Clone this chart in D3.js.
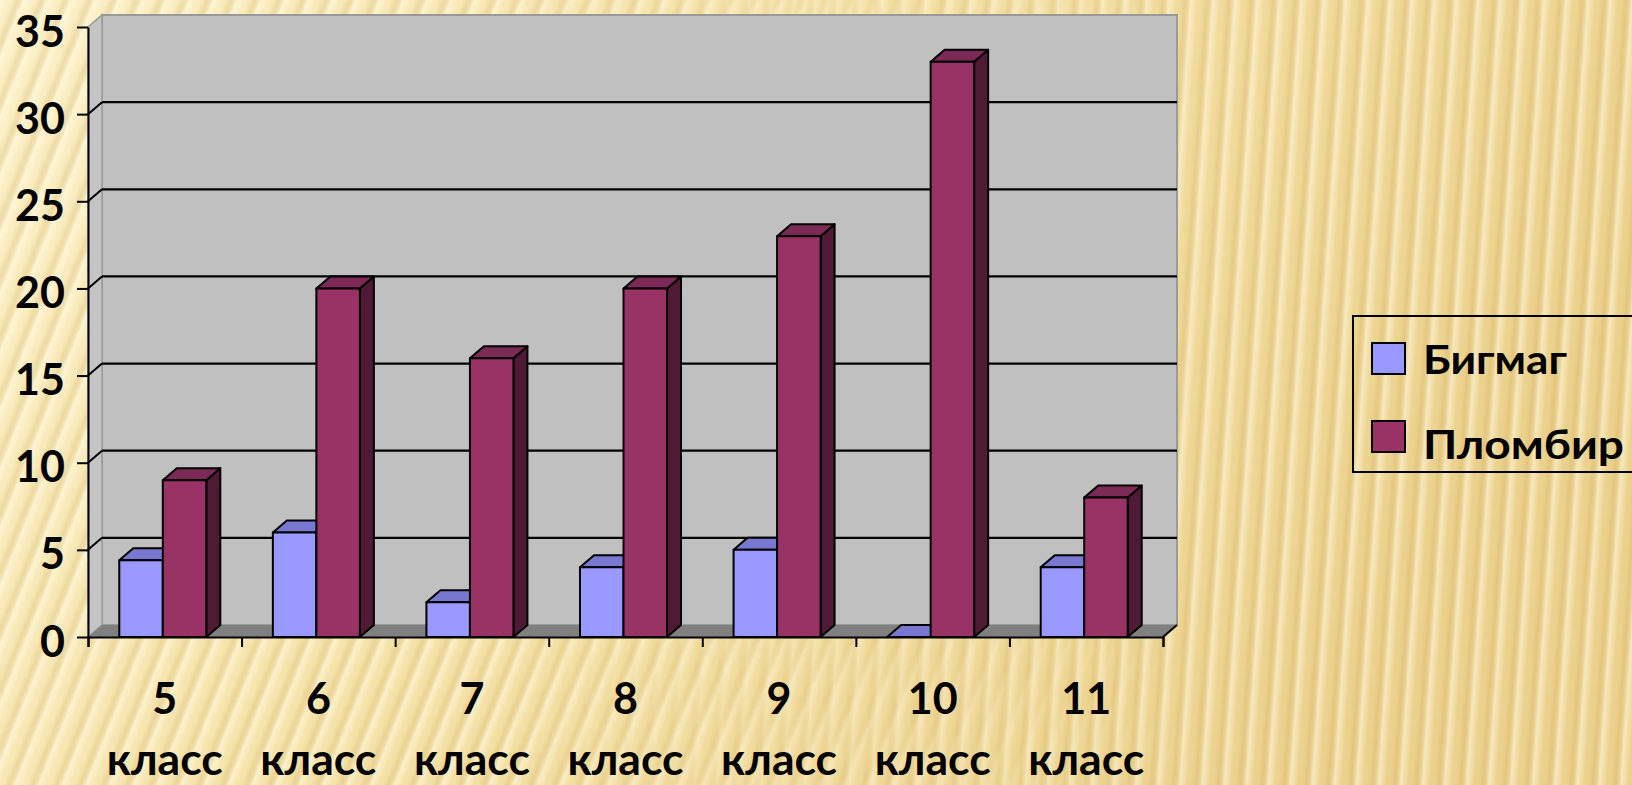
<!DOCTYPE html>
<html>
<head>
<meta charset="utf-8">
<script src="https://cdn.jsdelivr.net/npm/d3@7"></script>
<style>
body { margin: 0; overflow: hidden; }
svg { display: block; }
text { font-family: Lato, "Open Sans", sans-serif; font-weight: bold; fill: #000; }
</style>
</head>
<body>
<div id="chart"></div>
<script>
// данные диаграммы
var categories = ["5", "6", "7", "8", "9", "10", "11"];
var classWord = "класс";
var seriesNames = ["Бигмаг", "Пломбир"];
var bigmag = [4.4, 6, 2, 4, 5, 0, 4];
var plombir = [9, 20, 16, 20, 23, 33, 8];
var yTicks = [0, 5, 10, 15, 20, 25, 30, 35];

var widthx = 1632, heighty = 785;
var depth = {dx: 14, dy: -12}; // глубина 3D
var colors = {
    "Бигмаг": {front: "#9999ff", top: "#7878d0", side: "#5c5ca8"},
    "Пломбир": {front: "#993366", top: "#7a2a54", side: "#4f1a35"}
};

var svg = d3.select("#chart").append("svg")
    .attr("width", widthx)
    .attr("height", heighty);

// фон с мягкими полосами
var defs = svg.append("defs");
var bg = defs.append("linearGradient").attr("id", "bg").attr("x1", 0).attr("x2", 1).attr("y1", 0).attr("y2", 0.3);
bg.append("stop").attr("offset", 0).attr("stop-color", "#fcf0c6");
bg.append("stop").attr("offset", 0.45).attr("stop-color", "#f6e3a8");
bg.append("stop").attr("offset", 1).attr("stop-color", "#ecd18b");

var sg = defs.append("linearGradient").attr("id", "stripeGrad");
sg.append("stop").attr("offset", 0).attr("stop-color", "#fffbe8").attr("stop-opacity", 0.55);
sg.append("stop").attr("offset", 0.35).attr("stop-color", "#fffbe8").attr("stop-opacity", 0);
sg.append("stop").attr("offset", 0.7).attr("stop-color", "#c49c45").attr("stop-opacity", 0.2);
sg.append("stop").attr("offset", 1).attr("stop-color", "#fffbe8").attr("stop-opacity", 0.55);

function stripes(id, angle) {
    var p = defs.append("pattern").attr("id", id)
        .attr("patternUnits", "userSpaceOnUse")
        .attr("width", 22).attr("height", 40)
        .attr("patternTransform", "rotate(" + angle + ")");
    p.append("rect").attr("width", 22).attr("height", 40).attr("fill", "url(#stripeGrad)");
}
stripes("stripeA", 22);
stripes("stripeB", 4);

var fadeL = defs.append("linearGradient").attr("id", "fadeL");
fadeL.append("stop").attr("offset", 0.3).attr("stop-color", "#fff");
fadeL.append("stop").attr("offset", 0.75).attr("stop-color", "#000");
var fadeR = defs.append("linearGradient").attr("id", "fadeR");
fadeR.append("stop").attr("offset", 0.3).attr("stop-color", "#000");
fadeR.append("stop").attr("offset", 0.75).attr("stop-color", "#fff");
defs.append("mask").attr("id", "mL").append("rect").attr("width", widthx).attr("height", heighty).attr("fill", "url(#fadeL)");
defs.append("mask").attr("id", "mR").append("rect").attr("width", widthx).attr("height", heighty).attr("fill", "url(#fadeR)");

svg.append("rect").attr("width", widthx).attr("height", heighty).attr("fill", "url(#bg)");
svg.append("rect").attr("width", widthx).attr("height", heighty).attr("fill", "url(#stripeA)").attr("mask", "url(#mL)");
svg.append("rect").attr("width", widthx).attr("height", heighty).attr("fill", "url(#stripeB)").attr("mask", "url(#mR)");

// шкалы
var left = 88, right = 1163;
var y = d3.scaleLinear().domain([0, 35]).range([637, 27]);
var x0 = d3.scaleBand().domain(categories).range([left, right]).padding(0);
var x1 = d3.scaleBand().domain(seriesNames).range([0, x0.bandwidth()])
    .paddingInner(0).paddingOuter(0.765).align(0.47);

function pts(a) { return a.map(function(p) { return p.join(","); }).join(" "); }

// стены
var g = svg.append("g");
g.append("polygon") // задняя стена
    .attr("points", pts([[left + depth.dx, y(35) + depth.dy], [right + depth.dx, y(35) + depth.dy],
        [right + depth.dx, y(0) + depth.dy], [left + depth.dx, y(0) + depth.dy]]))
    .attr("fill", "#c0c0c0").attr("stroke", "#9a9a9a").attr("stroke-width", 2);
g.append("polygon") // боковая стена
    .attr("points", pts([[left, y(35)], [left + depth.dx, y(35) + depth.dy],
        [left + depth.dx, y(0) + depth.dy], [left, y(0)]]))
    .attr("fill", "#c4c4c4").attr("stroke", "#9a9a9a").attr("stroke-width", 1.5);
g.append("polygon") // пол
    .attr("points", pts([[left, y(0)], [right, y(0)], [right + depth.dx, y(0) + depth.dy], [left + depth.dx, y(0) + depth.dy]]))
    .attr("fill", "#808080");

// линии сетки
var grid = yTicks.filter(function(v) { return v > 0 && v < 35; });
g.selectAll(".grid").data(grid).enter().append("line")
    .attr("x1", left + depth.dx).attr("x2", right + depth.dx)
    .attr("y1", function(d) { return y(d) + depth.dy; })
    .attr("y2", function(d) { return y(d) + depth.dy; })
    .attr("stroke", "#000").attr("stroke-width", 2.2);
g.selectAll(".gridside").data(grid).enter().append("line")
    .attr("x1", left).attr("x2", left + depth.dx)
    .attr("y1", function(d) { return y(d); })
    .attr("y2", function(d) { return y(d) + depth.dy; })
    .attr("stroke", "#000").attr("stroke-width", 2);

// столбики
var barData = [];
categories.forEach(function(c, i) {
    barData.push({cat: c, s: "Бигмаг", v: bigmag[i]});
    barData.push({cat: c, s: "Пломбир", v: plombir[i]});
});
var bw = x1.bandwidth();
var bars = svg.append("g").selectAll("g").data(barData).enter().append("g")
    .attr("stroke", "#000").attr("stroke-width", 2).attr("stroke-linejoin", "round");
bars.each(function(d) {
    var b = d3.select(this);
    var xl = x0(d.cat) + x1(d.s), xr = xl + bw;
    var yt = y(d.v), yb = y(0);
    var c = colors[d.s];
    b.append("polygon")
        .attr("points", pts([[xr, yt], [xr + depth.dx, yt + depth.dy], [xr + depth.dx, yb + depth.dy], [xr, yb]]))
        .attr("fill", c.side);
    b.append("polygon")
        .attr("points", pts([[xl, yt], [xl + depth.dx, yt + depth.dy], [xr + depth.dx, yt + depth.dy], [xr, yt]]))
        .attr("fill", c.top);
    if (d.v > 0) {
        b.append("rect").attr("x", xl).attr("y", yt).attr("width", bw).attr("height", yb - yt)
            .attr("fill", c.front);
    }
});

// оси
var yAxis = svg.append("g")
    .attr("transform", "translate(" + left + ",0)")
    .call(d3.axisLeft(y).tickValues(yTicks).tickSize(11).tickSizeOuter(0).tickPadding(12));
yAxis.select(".domain").attr("stroke", "#000").attr("stroke-width", 2);
yAxis.selectAll(".tick line").attr("stroke", "#000").attr("stroke-width", 2);
yAxis.selectAll(".tick text")
    .attr("dy", "19px")
    .style("font-size", "43px")
    .style("font-family", "Lato, sans-serif")
    .style("font-weight", "bold")
    .attr("fill", "#000");

var xb = d3.scaleLinear().domain([0, categories.length]).range([left, right]);
var xAxis = svg.append("g")
    .attr("transform", "translate(0," + y(0) + ")")
    .call(d3.axisBottom(xb).ticks(categories.length).tickSize(10).tickSizeOuter(10).tickFormat(""));
xAxis.select(".domain").attr("stroke", "#000").attr("stroke-width", 2);
xAxis.selectAll(".tick line").attr("stroke", "#000").attr("stroke-width", 2);
svg.append("line")
    .attr("x1", right).attr("y1", y(0))
    .attr("x2", right + depth.dx).attr("y2", y(0) + depth.dy)
    .attr("stroke", "#000").attr("stroke-width", 2);

// подписи категорий
var labels = svg.append("g").selectAll("g").data(categories).enter().append("g")
    .attr("transform", function(d) { return "translate(" + (x0(d) + x0.bandwidth() / 2) + ",0)"; });
labels.append("text")
    .attr("y", 714).attr("text-anchor", "middle")
    .style("font-size", "43px")
    .text(function(d) { return d; });
labels.append("text")
    .attr("x", -58).attr("y", 775)
    .attr("textLength", 116).attr("lengthAdjust", "spacingAndGlyphs")
    .style("font-size", "44px")
    .text(classWord);

// легенда
var legend = svg.append("g");
legend.append("rect")
    .attr("x", 1353).attr("y", 316).attr("width", 320).attr("height", 156)
    .attr("fill", "none").attr("stroke", "#000").attr("stroke-width", 2);
var legendY = [343, 421];
var legendBase = [374, 459];
var legendLen = [144, 201];
seriesNames.forEach(function(s, i) {
    legend.append("rect")
        .attr("x", 1372).attr("y", legendY[i]).attr("width", 33).attr("height", 31)
        .attr("fill", colors[s].front).attr("stroke", "#000").attr("stroke-width", 2);
    legend.append("text")
        .attr("x", 1423).attr("y", legendBase[i])
        .attr("textLength", legendLen[i]).attr("lengthAdjust", "spacingAndGlyphs")
        .style("font-size", "40px")
        .text(s);
});
</script>
</body>
</html>
